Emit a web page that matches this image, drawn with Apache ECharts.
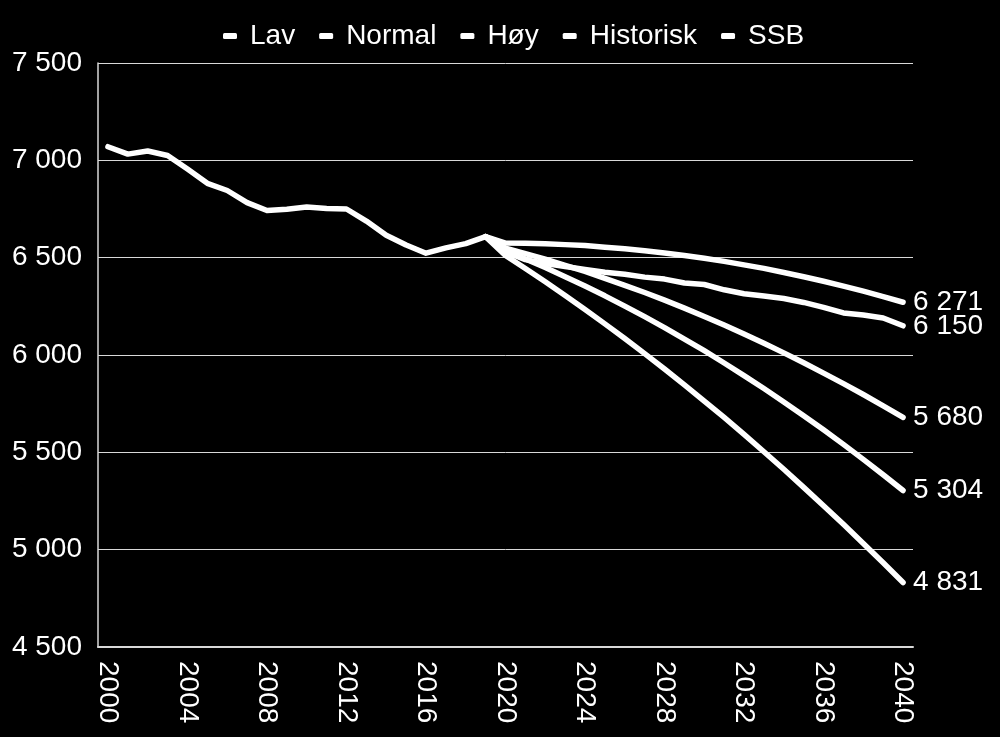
<!DOCTYPE html>
<html>
<head>
<meta charset="utf-8">
<script src="https://cdn.jsdelivr.net/npm/echarts@6/dist/echarts.min.js"></script>
<style>
html,body{margin:0;padding:0;background:#000;}
#c{width:1000px;height:737px;}
</style>
</head>
<body>
<div id="c"></div>
<script>
// Categories (years)
const years = ['2000','2001','2002','2003','2004','2005','2006','2007','2008','2009',
  '2010','2011','2012','2013','2014','2015','2016','2017','2018','2019',
  '2020','2021','2022','2023','2024','2025','2026','2027','2028','2029',
  '2030','2031','2032','2033','2034','2035','2036','2037','2038','2039','2040'];

// Observed history 2000-2019
const history = [7070,7032,7048,7025,6955,6882,6845,6783,6742,6749,
  6760,6752,6750,6688,6615,6565,6523,6550,6572,6608];

// Historisk projection 2020-2040
const historiskProj = [6575,6574,6571,6567,6562,6554,6546,6536,6524,6511,
  6497,6481,6463,6445,6424,6402,6379,6354,6328,6300,6271];

// Projections 2019-2040
const lav = [6608,6549,6521,6492,6461,6429,6394,6358,6321,6282,6241,
  6198,6154,6108,6060,6011,5960,5907,5853,5797,5739,5680];
const normal = [6608,6535,6493,6449,6402,6354,6304,6251,6197,6141,6082,
  6022,5959,5894,5828,5759,5688,5616,5541,5464,5385,5304];
const hoy = [6608,6511,6444,6376,6306,6234,6160,6085,6007,5928,5847,
  5763,5679,5592,5503,5413,5320,5226,5130,5032,4933,4831];
const ssb = [6608,6530,6490,6470,6455,6440,6425,6415,6400,6390,6370,
  6362,6335,6315,6303,6290,6270,6245,6216,6205,6190,6150];

const seriesNames = ['Lav','Normal','Høy','Historisk','SSB'];

function fmt(v){ return String(v).replace(/\B(?=(\d{3})+(?!\d))/g,' '); }
function pad(arr){ const out=[]; for(let i=0;i<years.length-arr.length;i++) out.push(null); return out.concat(arr); }

const dataMap = {
  'Lav': pad(lav),
  'Normal': pad(normal),
  'Høy': pad(hoy),
  'Historisk': history.concat(historiskProj),
  'SSB': pad(ssb)
};

const FONT = '"Liberation Sans", Arial, sans-serif';

const chart = echarts.init(document.getElementById('c'), null, {renderer:'canvas'});
chart.setOption({
  backgroundColor:'#000',
  animation:false,
  textStyle:{fontFamily:FONT},
  legend:{
    top:17,
    left:218,
    itemWidth:14,
    itemHeight:6,
    itemGap:24,
    icon:'roundRect',
    data:seriesNames,
    textStyle:{color:'#fff',fontSize:28,fontFamily:FONT,padding:[0,0,0,8]}
  },
  grid:{left:98,right:87,top:63,bottom:90,containLabel:false},
  xAxis:{
    type:'category',
    data:years,
    boundaryGap:true,
    axisLine:{show:true,lineStyle:{color:'#d9d9d9',width:2}},
    axisTick:{show:false},
    axisLabel:{color:'#fff',fontSize:28,fontFamily:FONT,rotate:-90,interval:3,margin:14},
    splitLine:{show:false}
  },
  yAxis:{
    type:'value',
    min:4500,max:7500,interval:500,
    axisLine:{show:true,lineStyle:{color:'#d9d9d9',width:1.5}},
    axisTick:{show:false},
    axisLabel:{color:'#fff',fontSize:28,fontFamily:FONT,margin:16,formatter:fmt},
    splitLine:{show:true,lineStyle:{color:'#d9d9d9',width:1}}
  },
  series:seriesNames.map(n=>({
    name:n,
    type:'line',
    data:dataMap[n],
    symbol:'none',
    connectNulls:false,
    color:'#fff',
    lineStyle:{color:'#fff',width:5.5,cap:'round',join:'round'},
    endLabel:{show:true,color:'#fff',fontSize:28,fontFamily:FONT,distance:10,
      formatter:p=>fmt(p.value)}
  }))
});
</script>
</body>
</html>
